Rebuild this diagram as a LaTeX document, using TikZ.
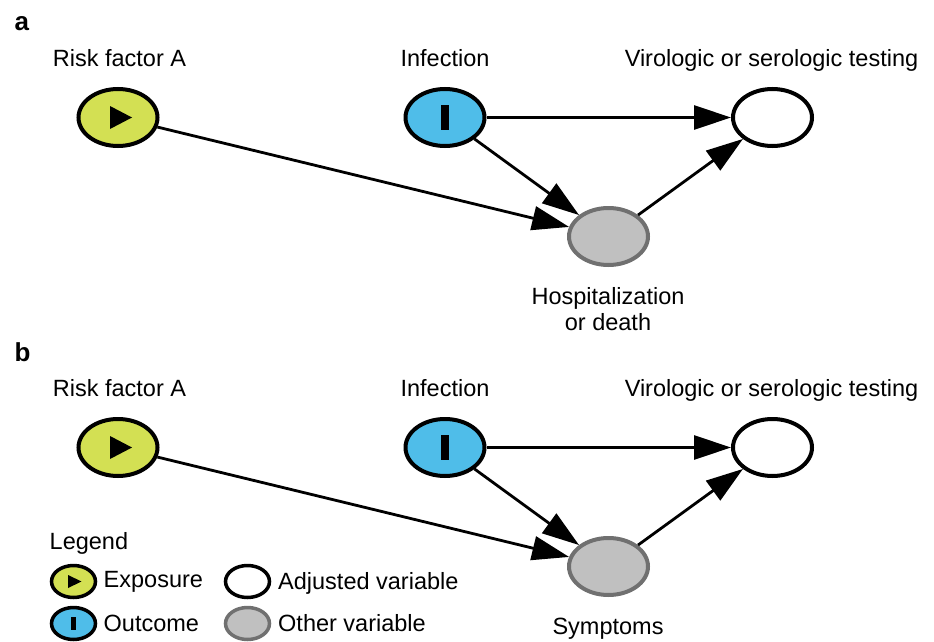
\documentclass[tikz,border=0pt]{standalone}
\usepackage{fontspec}
\setmainfont{Liberation Sans}
\usepackage{xcolor}
\usetikzlibrary{arrows.meta,shapes.geometric}

\definecolor{expgreen}{HTML}{D3E053}
\definecolor{outblue}{HTML}{4FBDE9}
\definecolor{otherfill}{HTML}{C0C0C0}
\definecolor{othergray}{HTML}{707070}

\begin{document}
\begin{tikzpicture}[x=1pt, y=-1pt,
  every node/.style={font=\fontsize{23.5}{26}\selectfont, inner sep=0pt},
  dagvar/.style={ellipse, draw, line width=4pt, minimum width=79pt, minimum height=57pt},
  legvar/.style={dagvar, line width=3.5pt, minimum width=44pt, minimum height=32pt},
  exposure/.style={fill=expgreen},
  outcome/.style={fill=outblue},
  adjusted/.style={fill=white},
  other/.style={draw=othergray, fill=otherfill},
  causal/.style={-{Triangle[length=37pt, width=24pt]}, line width=2.8pt}]
  \useasboundingbox (0,0) rectangle (934,642);

  % panels a and b
  \foreach \p/\dy/\outtxt in {a/0/{Hospitalization\\or death}, b/330/Symptoms} {
    \node[anchor=base west, font=\fontsize{26}{28}\selectfont\bfseries] (\p-tag) at (14.5,31+\dy) {\p};
    \node[dagvar, exposure] (\p-risk) at (118,117.5+\dy) {};
    \node[dagvar, outcome] (\p-inf) at (445,117.5+\dy) {};
    \node[dagvar, adjusted] (\p-test) at (772.5,117.5+\dy) {};
    \node[dagvar, other] (\p-mid) at (608.5,236.5+\dy) {};
    \node[anchor=base] (\p-risklbl) at (119.5,66.5+\dy) {Risk factor A};
    \node[anchor=base] (\p-inflbl) at (445,66.5+\dy) {Infection};
    \node[anchor=base] (\p-testlbl) at (771.5,66.5+\dy) {Virologic or serologic testing};
    \node[anchor=north, align=center] (\p-midlbl) at (608,287.5+\dy) {\outtxt};
    \fill[shift={(\p-risk.center)}] (-8,-11.5) -- (14,0) -- (-8,11.5) -- cycle;
    \fill[shift={(\p-inf.center)}] (-4,-12.5) rectangle (4,12.5);
    \draw[causal] (\p-risk) -- (\p-mid);
    \draw[causal] (\p-inf) -- (\p-mid);
    \draw[causal] (\p-inf) -- (\p-test);
    \draw[causal] (\p-mid) -- (\p-test);
  }

  % legend
  \node[anchor=base west] (leg) at (49.5,549.5) {Legend};
  \node[legvar, exposure] (legexp) at (73.5,581.5) {};
  \node[legvar, outcome] (legout) at (73.5,623.5) {};
  \node[legvar, adjusted] (legadj) at (247.5,581.5) {};
  \node[legvar, other] (legoth) at (247.5,623.5) {};
  \fill[shift={(legexp.center)}] (-5.5,-6.5) -- (8,0) -- (-5.5,6.5) -- cycle;
  \fill[shift={(legout.center)}] (-2.7,-6.5) rectangle (2.7,6.5);
  \node[anchor=base west] (legexplbl) at (103.5,587) {Exposure};
  \node[anchor=base west] (legoutlbl) at (103.5,631) {Outcome};
  \node[anchor=base west] (legadjlbl) at (278,589) {Adjusted variable};
  \node[anchor=base west] (legothlbl) at (278,631) {Other variable};
\end{tikzpicture}
\end{document}
